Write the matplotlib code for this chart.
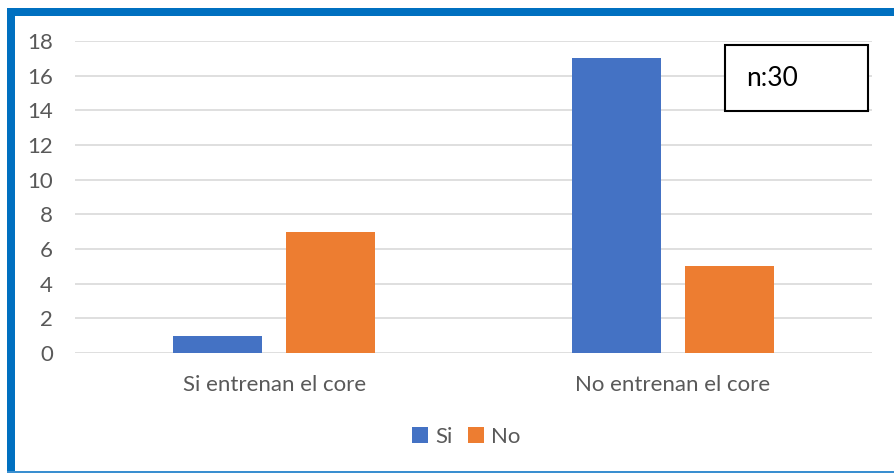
import matplotlib.pyplot as plt
import matplotlib.patches as mpatches
import numpy as np

# datos
categorias = ["Si entrenan el core", "No entrenan el core"]
serie_si = [1, 17]
serie_no = [7, 5]
nombres = ["Si", "No"]
colores = ["#4472C4", "#ED7D31"]

plt.rcParams['font.family'] = ['Lato', 'DejaVu Sans']

fig = plt.figure(figsize=(8.94, 4.73), dpi=100)
ax = fig.add_axes([75/894, 1 - 353/473, 797/894, 312/473])

x = np.arange(len(categorias))
ancho = 0.223
desp = 0.142
ax.bar(x - desp, serie_si, ancho, color=colores[0], label=nombres[0], zorder=3)
ax.bar(x + desp, serie_no, ancho, color=colores[1], label=nombres[1], zorder=3)

ax.set_xlim(-0.5, 1.5)
ax.set_ylim(0, 18)
ax.set_yticks(range(0, 19, 2))
ax.set_xticks(x)
ax.set_xticklabels(categorias)
ax.tick_params(axis='both', length=0, colors='#595959', labelsize=16)
ax.tick_params(axis='y', pad=16)
ax.tick_params(axis='x', pad=16)
ax.grid(axis='y', color='#d9d9d9', linewidth=1.2, zorder=0)
for s in ax.spines.values():
    s.set_visible(False)
ax.patch.set_alpha(0)

# cuadro n
fig.patches.append(mpatches.Rectangle((725/894, 1 - 111/473), 143/894, 66/473,
                                      transform=fig.transFigure, facecolor='white',
                                      edgecolor='black', linewidth=1.5, zorder=4))
fig.text(746/894, 1 - 78/473, "n:30", fontsize=19, ha='left', va='center', zorder=6)

# leyenda
fig.legend(loc='center', bbox_to_anchor=(466/894, 1 - 437/473), ncol=2, frameon=False,
           fontsize=16, labelcolor='#595959', handlelength=0.75, handleheight=0.75,
           handletextpad=0.3, columnspacing=0.7)

# marco azul
fig.patches.append(mpatches.Rectangle((7/894, 0), 8/894, 1 - 8/473, transform=fig.transFigure,
                                      facecolor='#0070C0', edgecolor='none'))
fig.patches.append(mpatches.Rectangle((7/894, 1 - 16/473), 887/894, 8/473, transform=fig.transFigure,
                                      facecolor='#0070C0', edgecolor='none'))
fig.patches.append(mpatches.Rectangle((7/894, 0), 887/894, 2/473, transform=fig.transFigure,
                                      facecolor='#3a8fd0', edgecolor='none'))

fig.savefig("out.png", dpi=100)
